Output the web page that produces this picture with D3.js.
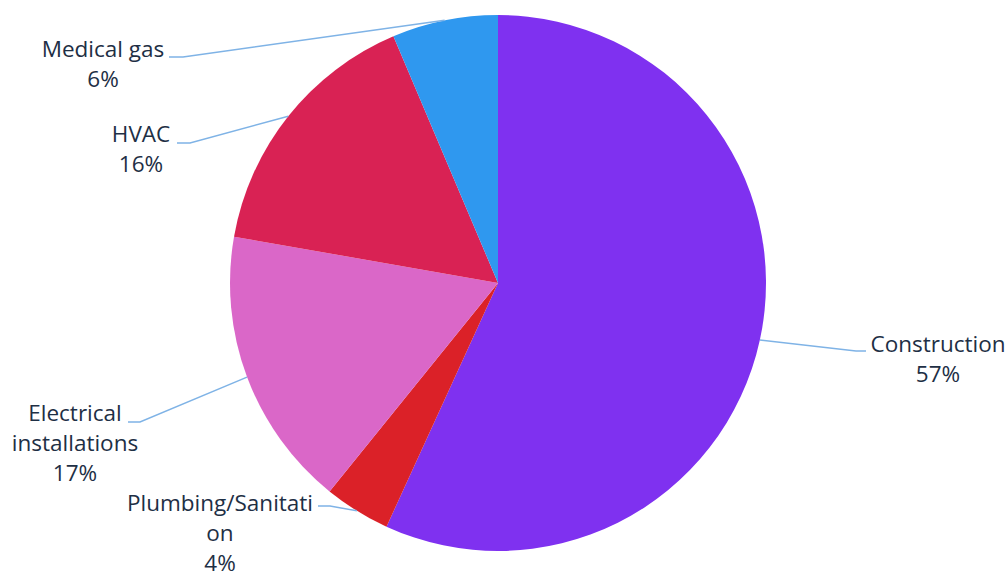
<!DOCTYPE html>
<html><head><meta charset="utf-8">
<script src="https://cdn.jsdelivr.net/npm/d3@7"></script>
<style>body{margin:0;background:#fff}svg{display:block}</style>
</head><body>
<svg id="chart" width="1008" height="572"></svg>
<script>
// data
const categories = ["Construction", "Plumbing/Sanitation", "Electrical installations", "HVAC", "Medical gas"];
const values = [57, 4, 17, 15.9, 6.4];
const percentLabels = ["57%", "4%", "17%", "16%", "6%"];
const labelLines = [["Construction"], ["Plumbing/Sanitati", "on"], ["Electrical", "installations"], ["HVAC"], ["Medical gas"]];
const colors = ["#7f31f0", "#db2128", "#da67c8", "#d92254", "#2f98ef"];

// layout (label elbow points and text anchors)
const elbows = [[856, 351], [330, 506], [140, 422], [190, 143], [183, 57]];
const ends   = [[866, 351], [318, 506], [128, 422], [177, 143], [169, 57]];
const textX  = [938, 220, 75, 141, 103];
const textY  = [344, 503, 413, 134, 49];

const svg = d3.select("#chart");
const cx = 498, cy = 283, r = 268;
const g = svg.append("g").attr("transform", `translate(${cx},${cy})`);
const pie = d3.pie().sort(null).value(d => d)(values);
const arc = d3.arc().innerRadius(0).outerRadius(r);

g.selectAll("path.slice").data(pie).join("path")
  .attr("class", "slice")
  .attr("d", arc)
  .attr("fill", (d, i) => colors[i]);

pie.forEach((d, i) => {
  const a = (d.startAngle + d.endAngle) / 2;
  const sx = cx + r * Math.sin(a), sy = cy - r * Math.cos(a);
  svg.append("polyline")
    .attr("points", [[sx, sy], elbows[i], ends[i]].map(p => p.join(",")).join(" "))
    .attr("fill", "none").attr("stroke", "#7fb3e6").attr("stroke-width", 1.5);
  const lines = labelLines[i].concat([percentLabels[i]]);
  const t = svg.append("text")
    .attr("text-anchor", "middle")
    .attr("font-family", "'Open Sans', sans-serif")
    .attr("font-size", 22.5)
    .attr("fill", "#1e2f45");
  lines.forEach((s, k) => {
    t.append("tspan").attr("x", textX[i]).attr("y", textY[i] + k * 30)
      .attr("dy", "0.35em").text(s);
  });
});
</script>
</body></html>
